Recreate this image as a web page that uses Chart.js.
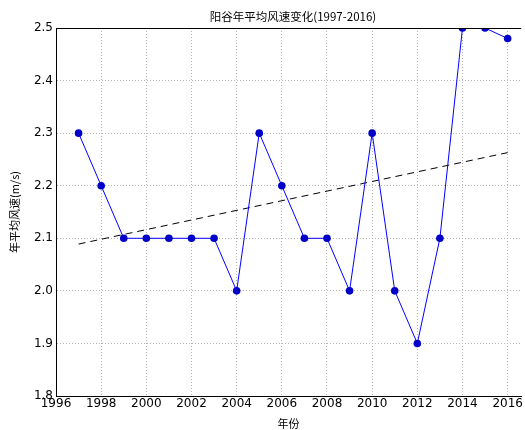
<!DOCTYPE html>
<html>
<head>
<meta charset="utf-8">
<script src="https://cdn.jsdelivr.net/npm/chart.js@4"></script>
<style>
  html, body { margin: 0; padding: 0; background: #fff; overflow: hidden; }
  #wrap { width: 525px; height: 430px; }
</style>
</head>
<body>
<div id="wrap"><canvas id="chart" width="525" height="430"></canvas></div>
<script>
// yearly mean wind speed, Yanggu
var years = [1997, 1998, 1999, 2000, 2001, 2002, 2003, 2004, 2005, 2006,
             2007, 2008, 2009, 2010, 2011, 2012, 2013, 2014, 2015, 2016];
var speeds = [2.3, 2.2, 2.1, 2.1, 2.1, 2.1, 2.1, 2.0, 2.3, 2.2,
              2.1, 2.1, 2.0, 2.3, 2.0, 1.9, 2.1, 2.5, 2.5, 2.48];
// linear trend, start and end values
var trendYears = [1997, 2016];
var trendValues = [2.089, 2.263];
var yTicks = [1.8, 1.9, 2.0, 2.1, 2.2, 2.3, 2.4, 2.5];
var xTicks = [1996, 1998, 2000, 2002, 2004, 2006, 2008, 2010, 2012, 2014, 2016];

var cjk = '"Noto Sans CJK SC", "DejaVu Sans", sans-serif';
var num = '"DejaVu Sans", sans-serif';

var points = years.map(function(y, i) { return {x: y, y: speeds[i]}; });
var trend = trendYears.map(function(y, i) { return {x: y, y: trendValues[i]}; });

// title + top frame line
var extras = {
    id: 'extras',
    afterDraw: function(chart) {
        var ctx = chart.ctx;
        var a = chart.chartArea;
        ctx.save();
        ctx.strokeStyle = '#000';
        ctx.lineWidth = 1;
        ctx.beginPath();
        ctx.moveTo(a.left, Math.round(a.top) + 0.5);
        ctx.lineTo(a.right, Math.round(a.top) + 0.5);
        ctx.stroke();
        ctx.fillStyle = '#000';
        ctx.font = '11.5px ' + cjk;
        ctx.textAlign = 'center';
        ctx.textBaseline = 'middle';
        ctx.fillText('阳谷年平均风速变化(1997-2016)', 293, 17);
        ctx.restore();
    }
};

new Chart(document.getElementById('chart'), {
    type: 'scatter',
    data: {
        datasets: [
            {
                label: 'speed',
                data: points,
                showLine: true,
                borderColor: '#0000ff',
                backgroundColor: '#0000c8',
                borderWidth: 1,
                pointRadius: 3.8,
                pointBorderWidth: 0,
                pointHoverRadius: 3.8
            },
            {
                label: 'trend',
                data: trend,
                showLine: true,
                borderColor: '#000',
                borderWidth: 1,
                borderDash: [7, 5],
                pointRadius: 0
            }
        ]
    },
    options: {
        responsive: false,
        animation: false,
        layout: { padding: { left: 0, right: 0, top: 28, bottom: 0 } },
        plugins: {
            legend: { display: false },
            tooltip: { enabled: false }
        },
        scales: {
            x: {
                type: 'linear',
                min: 1996,
                max: 2016.6,
                afterBuildTicks: function(scale) {
                    scale.ticks = xTicks.map(function(v) { return {value: v}; });
                },
                afterFit: function(scale) { scale.height = 34; },
                ticks: {
                    color: '#000',
                    font: { family: num, size: 12 },
                    padding: 1,
                    maxRotation: 0,
                    autoSkip: false,
                    callback: function(v) { return String(v); }
                },
                grid: {
                    color: '#b4b4b4',
                    drawTicks: false
                },
                border: { color: '#000', width: 1, dash: [1, 2] },
                title: {
                    display: true,
                    text: '年份',
                    color: '#000',
                    font: { family: cjk, size: 11 },
                    padding: { top: 0, bottom: 0 }
                }
            },
            y: {
                min: 1.8,
                max: 2.5,
                afterBuildTicks: function(scale) {
                    scale.ticks = yTicks.map(function(v) { return {value: v}; });
                },
                afterFit: function(scale) { scale.width = 56; },
                ticks: {
                    color: '#000',
                    font: { family: num, size: 12 },
                    padding: 3,
                    callback: function(v) { return v.toFixed(1); }
                },
                grid: {
                    color: '#b4b4b4',
                    drawTicks: false
                },
                border: { color: '#000', width: 1, dash: [1, 2] },
                title: {
                    display: true,
                    text: '年平均风速(m/s)',
                    color: '#000',
                    font: { family: cjk, size: 11 },
                    padding: { top: 8, bottom: 2 }
                }
            }
        }
    },
    plugins: [extras]
});
</script>
</body>
</html>
